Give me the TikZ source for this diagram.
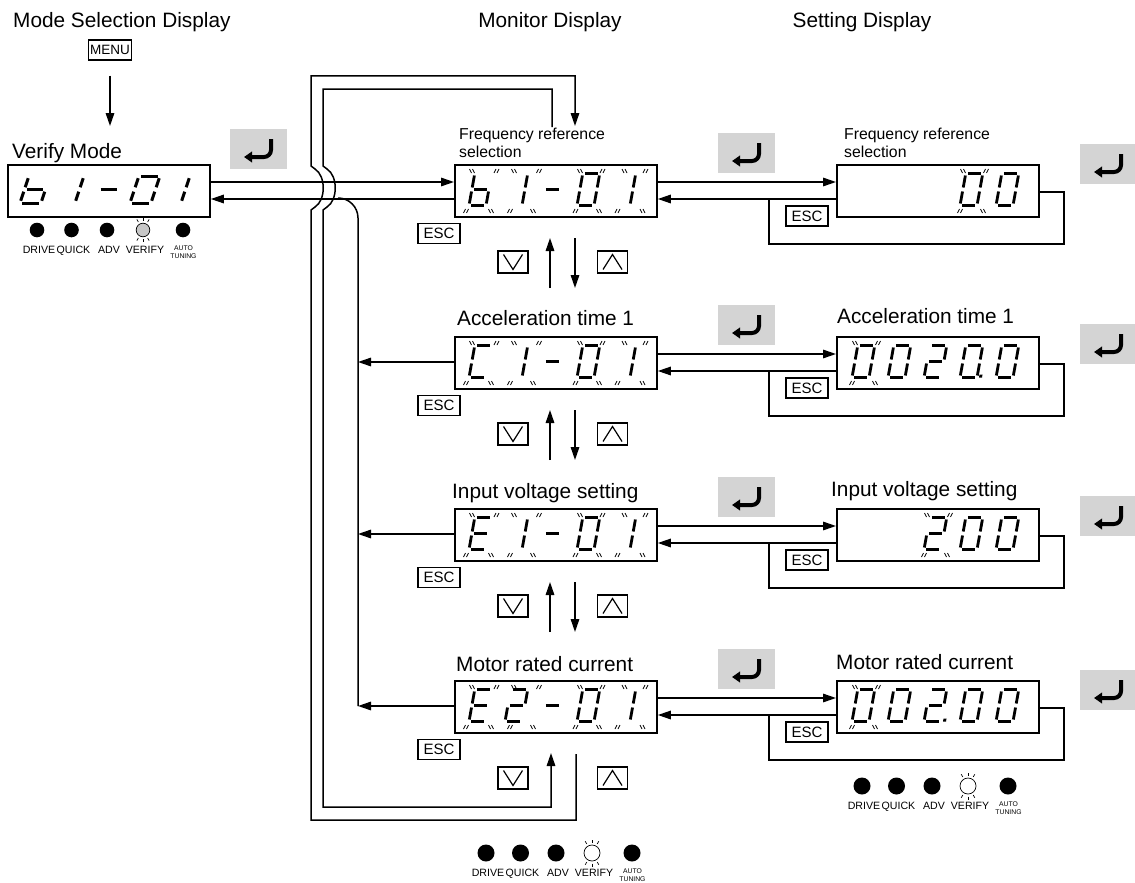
\documentclass[tikz,border=0pt]{standalone}
\usepackage{fontspec}
\setmainfont{Liberation Sans}
\usetikzlibrary{arrows.meta}
% segment lists: 1 top, 2 upper right, 3 lower right, 4 bottom, 5 lower left, 6 upper left, 7 middle, 8 point
\newcommand\SgZero{1,2,3,4,5,6}
\newcommand\SgOne{2,3}
\newcommand\SgTwo{1,2,7,5,4}
\newcommand\SgB{6,5,4,3,7}
\newcommand\SgC{1,6,5,4}
\newcommand\SgE{1,6,7,5,4}
\newcommand\SgDash{7}
\newcommand\SgZeroP{1,2,3,4,5,6,8}
\newcommand\SgTwoP{1,2,7,5,4,8}
\newcommand\MonParams{\def\GdH{32}\def\GdW{17}\def\GdS{0.18}\def\GdG{2}\def\GdLW{2.8pt}}
\newcommand\VerParams{\def\GdH{27}\def\GdW{21}\def\GdS{0.33}\def\GdG{2.2}\def\GdLW{3pt}}
\newcommand\DrawSeg[1]{%
  \ifcase#1\relax\or
  \draw[seg] (\GdG,\GdH) -- ({\GdW-\GdG},\GdH);\or
  \draw[seg] (\GdW,{\GdH-\GdG}) -- (\GdW,{\GdH/2+\GdG});\or
  \draw[seg] (\GdW,{\GdH/2-\GdG}) -- (\GdW,\GdG);\or
  \draw[seg] (\GdG,0) -- ({\GdW-\GdG},0);\or
  \draw[seg] (0,\GdG) -- (0,{\GdH/2-\GdG});\or
  \draw[seg] (0,{\GdH/2+\GdG}) -- (0,{\GdH-\GdG});\or
  \draw[seg] (\GdG,{\GdH/2}) -- ({\GdW-\GdG},{\GdH/2});\or
  \fill ({\GdW+2},0) rectangle ({\GdW+5},3);\fi}
\newcommand\DigitAt[3]{%
  \begin{scope}[shift={(#1,#2)},y=1pt,xslant=\GdS]
    \foreach \sg in #3 {\DrawSeg{\sg}}
  \end{scope}}
\newcommand\Bmark[3]{%
  \draw[bmark] ({#1-1.5-(#3)},{#2-2}) -- ++({2*(#3)},4)
               ({#1+1.5-(#3)},{#2-2}) -- ++({2*(#3)},4);}
\newcommand\Blink[6]{\Bmark{#1+#3}{#2+7}{1}\Bmark{#1+#4}{#2+7}{-1}%
  \Bmark{#1+#5}{#2+47}{-1}\Bmark{#1+#6}{#2+47}{1}}
\newcommand\MonBlink[2]{\Blink{#1}{#2}{18}{42.5}{12}{37}\Blink{#1}{#2}{60}{85}{56}{79}%
  \Blink{#1}{#2}{126}{148.5}{121.5}{145}\Blink{#1}{#2}{170.5}{191.5}{163.5}{188.5}}
\newcommand\SetBlink[3]{\Blink{#1}{#2}{19+36*#3}{42+36*#3}{16+36*#3}{39+36*#3}}
\newcommand\MonRow[3]{%
  \DigitAt{469}{#1+41.5}{#2}\DigitAt{505}{#1+41.5}{#3}\DigitAt{541}{#1+41.5}{\SgDash}%
  \DigitAt{577}{#1+41.5}{\SgZero}\DigitAt{613}{#1+41.5}{\SgOne}\MonBlink{454}{#1}}
\newcommand\RowLinks[2]{%
  \draw[arr] ([yshift=-18pt]m#1.north east) -- ([yshift=-18pt]s#1.north west);
  \draw[arr] ([yshift=-35pt]s#1.north west) -- ([yshift=-35pt]m#1.north east);
  \coordinate (e#1) at (769,#2+35);
  \draw[conn] ([yshift=-28pt]s#1.north east) -- ++(24,0) -- ++(0,52) -| (e#1);
  \node[keybox] (se#1) at (807,#2+52) {ESC};
  \node[keybox] (me#1) at (439,#2+69.5) {ESC};
  \pic at (718,#2-31) {enterkey};
  \node[navkey] (kd#1) at (513,#2+98) {};
  \draw[keyglyph] (503.5,#2+90.5) -- (513,#2+105.5) -- (522.5,#2+90.5);
  \node[navkey] (ku#1) at (612.5,#2+98) {};
  \draw[keyglyph] (603,#2+105.5) -- (612.5,#2+90.5) -- (622,#2+105.5);}
\newcommand\Nav[2]{%
  \coordinate (ua#1) at (550,#2+124); \coordinate (ub#1) at (550,#2+74);
  \draw[arr] (ua#1) -- (ub#1);
  \coordinate (da#1) at (575,#2+74); \coordinate (db#1) at (575,#2+124);
  \draw[arr] (da#1) -- (db#1);}
\newcommand\LampRow[5]{%
  \foreach \dx/\nm/\lb in {0/a/DRIVE,34.5/b/QUICK,70/c/ADV}{%
    \node[circle,fill=black,inner sep=0pt,minimum size={2*#4}] (#1\nm) at (#2+\dx,#3) {};
    \node[lamptext] (#1\nm t) at (#2+\dx+2,#3+23) {\lb};}
  \node[circle,draw=black,line width=0.7pt,fill=#5,inner sep=0pt,minimum size={2*#4-1}] (#1d) at (#2+106,#3) {};
  \foreach \a in {60,90,120,240,270,300}
    \draw[line width=0.7pt] ([shift={(\a:{#4+2})}]#1d.center) -- ([shift={(\a:{#4+5})}]#1d.center);
  \node[lamptext] (#1dt) at (#2+108,#3+23) {VERIFY};
  \node[circle,fill=black,inner sep=0pt,minimum size={2*#4}] (#1e) at (#2+146,#3) {};
  \node[autotext] (#1et) at (#2+146.5,#3+20.5) {AUTO};
  \node[autotext] (#1eu) at (#2+146.5,#3+28.5) {TUNING};}
\tikzset{
  conn/.style={line width=1.5pt},
  arr/.style={line width=1.5pt,-{Triangle[length=13pt,width=8.5pt]}},
  disp/.style={draw,line width=1.8pt,minimum width=202pt,minimum height=52pt,inner sep=0pt,anchor=north west},
  keybox/.style={draw,line width=1.3pt,inner sep=0pt,minimum width=42pt,minimum height=20pt,font=\fontsize{15}{15}\selectfont},
  navkey/.style={draw,line width=1.3pt,inner sep=0pt,minimum width=30pt,minimum height=22pt},
  keyglyph/.style={line width=1.2pt},
  big/.style={font=\fontsize{20.8}{24}\selectfont,inner sep=0pt,anchor=base west},
  small/.style={font=\fontsize{15.8}{19}\selectfont,inner sep=0pt,anchor=base west},
  seg/.style={line width=\GdLW},
  bmark/.style={line width=0.8pt},
  lamptext/.style={font=\fontsize{10.6}{12}\selectfont,inner sep=0pt,anchor=base},
  autotext/.style={font=\fontsize{6.8}{8}\selectfont,inner sep=0pt,anchor=base},
  enterkey/.pic={
    \fill[black!17] (0,0) rectangle (57,40);
    \draw[line width=4pt,rounded corners=7pt,-{Triangle[length=8pt,width=10.5pt]}] (41,10) -- (41,28) -- (14,28);
  }
}
\begin{document}
\begin{tikzpicture}[x=1pt,y=-1pt]
\useasboundingbox (0,0) rectangle (1135,883);
% titles
\node[big] (t1) at (13,28) {Mode Selection Display};
\node[big,anchor=base] (t2) at (550,28) {Monitor Display};
\node[big,anchor=base] (t3) at (862,28) {Setting Display};
% menu
\node[draw,line width=1.3pt,inner sep=0pt,minimum width=43pt,minimum height=20pt,font=\fontsize{13.5}{13.5}\selectfont] (menu) at (110,50) {MENU};
\coordinate (vin) at (110,126);
\draw[arr] ([yshift=-15pt]menu.south) -- (vin);
% verify display
\node[big] (vlab) at (12,158) {Verify Mode};
\node[disp] (vbox) at (7,164) {};
\VerParams
\DigitAt{20}{203}{\SgB}\DigitAt{54}{203}{\SgOne}\DigitAt{94}{203}{\SgDash}%
\DigitAt{130}{203}{\SgZero}\DigitAt{160}{203}{\SgOne}
\pic at (230,129) {enterkey};
\LampRow{vl}{37}{230}{7.3}{black!22}
% monitor and setting boxes
\node[disp] (m1) at (454,164) {};
\node[disp] (m2) at (454,336) {};
\node[disp] (m3) at (454,508) {};
\node[disp] (m4) at (454,680) {};
\node[disp] (s1) at (836,164) {};
\node[disp] (s2) at (836,336) {};
\node[disp] (s3) at (836,508) {};
\node[disp] (s4) at (836,680) {};
% labels
\node[small] (m1l) at (459,139) {Frequency reference};
\node[small] (m1l2) at (459,157) {selection};
\node[big] (m2l) at (457,325) {Acceleration time 1};
\node[big] (m3l) at (452,498) {Input voltage setting};
\node[big] (m4l) at (456,671) {Motor rated current};
\node[small] (s1l) at (844,139) {Frequency reference};
\node[small] (s1l2) at (844,157) {selection};
\node[big] (s2l) at (837,323) {Acceleration time 1};
\node[big] (s3l) at (831,496) {Input voltage setting};
\node[big] (s4l) at (836,669) {Motor rated current};
% digits
\MonParams
\MonRow{164}{\SgB}{\SgOne}
\MonRow{336}{\SgC}{\SgOne}
\MonRow{508}{\SgE}{\SgOne}
\MonRow{680}{\SgE}{\SgTwo}
\DigitAt{960}{205.5}{\SgZero}\DigitAt{996}{205.5}{\SgZero}\SetBlink{836}{164}{3}
\DigitAt{852}{377.5}{\SgZero}\DigitAt{888}{377.5}{\SgZero}\DigitAt{924}{377.5}{\SgTwo}%
\DigitAt{960}{377.5}{\SgZeroP}\DigitAt{996}{377.5}{\SgZero}\SetBlink{836}{336}{0}
\DigitAt{924}{549.5}{\SgTwo}\DigitAt{960}{549.5}{\SgZero}\DigitAt{996}{549.5}{\SgZero}\SetBlink{836}{508}{2}
\DigitAt{852}{721.5}{\SgZero}\DigitAt{888}{721.5}{\SgZero}\DigitAt{924}{721.5}{\SgTwoP}%
\DigitAt{960}{721.5}{\SgZero}\DigitAt{996}{721.5}{\SgZero}\SetBlink{836}{680}{0}
% row links
\RowLinks{1}{164}
\RowLinks{2}{336}
\RowLinks{3}{508}
\RowLinks{4}{680}
\Nav{1}{164}
\Nav{2}{336}
\Nav{3}{508}
\pic at (1080,144) {enterkey};
\pic at (1080,324) {enterkey};
\pic at (1080,496) {enterkey};
\pic at (1080,670) {enterkey};
% verify <-> monitor
\draw[arr] ([yshift=-18pt]vbox.north east) -- ([yshift=-18pt]m1.north west);
\draw[arr] ([yshift=-35pt]m1.north west) -- ([yshift=-35pt]vbox.north east);
% return bus
\coordinate (jn) at (338,198);
\coordinate (bus2) at (358,362);
\coordinate (bus3) at (358,534);
\coordinate (bus4) at (358,706);
\draw[conn,rounded corners=20pt] (bus4) -- (bus4 |- jn) -- (jn);
\draw[arr] ([yshift=-26pt]m2.north west) -- (bus2);
\draw[arr] ([yshift=-26pt]m3.north west) -- (bus3);
\draw[arr] ([yshift=-26pt]m4.north west) -- (bus4);
% wrap loops
\coordinate (o0) at (576,754);
\coordinate (o1) at (575,126);
\draw[arr] (o0) -- (576,820) -- (311,820) -- (311,210) -- (315,207) .. controls (326,200) and (326,176) .. (315,169) -- (311,166) -- (311,76) -| (o1);
\coordinate (i0) at (552,127);
\coordinate (i1) at (551,753);
\draw[arr] (i0) -- (552,89) -- (323,89) -- (323,166) -- (327,169) .. controls (338,176) and (338,200) .. (327,207) -- (323,210) -- (323,807) -| (i1);
% lamps
\LampRow{bl}{486}{853}{8.5}{white}
\LampRow{rl}{862}{786}{8.5}{white}
\end{tikzpicture}
\end{document}
